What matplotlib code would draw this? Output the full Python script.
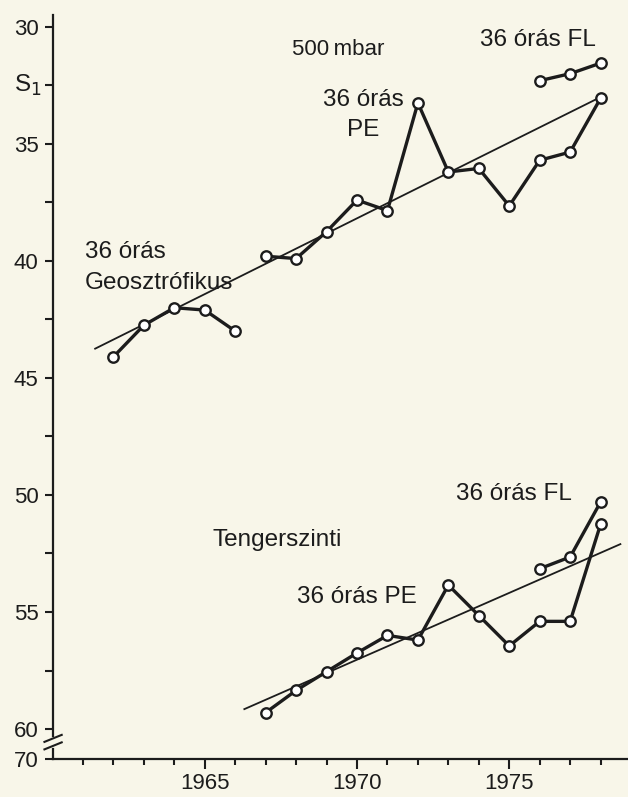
import matplotlib.pyplot as plt
from matplotlib.transforms import blended_transform_factory

# --- data (S1 score, lower is better) ---

# 500 mbar
geo_years = [1962, 1963, 1964, 1965, 1966]
geo_s1 = [44.1, 42.75, 42.0, 42.1, 43.0]

pe500_years = [1967, 1968, 1969, 1970, 1971, 1972, 1973, 1974, 1975, 1976, 1977, 1978]
pe500_s1 = [39.8, 39.9, 38.75, 37.4, 37.85, 33.25, 36.2, 36.05, 37.65, 35.7, 35.35, 33.05]

fl500_years = [1976, 1977, 1978]
fl500_s1 = [32.3, 32.0, 31.55]

trend500_years = [1961.4, 1978.0]
trend500_s1 = [43.75, 33.0]

# tengerszinti (sea level)
pesl_years = [1967, 1968, 1969, 1970, 1971, 1972, 1973, 1974, 1975, 1976, 1977, 1978]
pesl_s1 = [59.3, 58.35, 57.55, 56.75, 56.0, 56.2, 53.85, 55.15, 56.45, 55.4, 55.4, 51.25]

flsl_years = [1976, 1977, 1978]
flsl_s1 = [53.15, 52.65, 50.3]

trendsl_years = [1966.3, 1978.65]
trendsl_s1 = [59.15, 52.1]

ytick_vals = [30, 35, 40, 45, 50, 55, 60]
ytick_labels = ["30", "35", "40", "45", "50", "55", "60"]
xtick_vals = [1965, 1970, 1975]

PAPER = "#f8f6e9"
INK = "#1c1c1c"
FONT = "Liberation Sans"
FS = 17.5      # annotation text
FS_TICK = 16   # tick labels

plt.rcParams["font.family"] = FONT

fig = plt.figure(figsize=(6.28, 7.97), dpi=100, facecolor=PAPER)
ax = fig.add_axes([0.0836, 0.0477, 0.9164, 0.9333], facecolor=PAPER)

# axis bottom sits at the broken "70" mark
y_bottom = 61.28
ax.set_xlim(1960, 1978.9)
ax.set_ylim(y_bottom, 29.5)


def series(years, vals):
    ax.plot(years, vals, color=INK, lw=2.4, marker="o", ms=7.5,
            mfc="white", mec=INK, mew=1.7, zorder=3, clip_on=False)


def trend(years, vals):
    ax.plot(years, vals, color=INK, lw=1.3, zorder=2, clip_on=False)


trend(trend500_years, trend500_s1)
trend(trendsl_years, trendsl_s1)
series(geo_years, geo_s1)
series(pe500_years, pe500_s1)
series(fl500_years, fl500_s1)
series(pesl_years, pesl_s1)
series(flsl_years, flsl_s1)

# spines and ticks
for s in ["top", "right"]:
    ax.spines[s].set_visible(False)
ax.spines["left"].set_bounds(29.5, 60.3)
ax.spines["left"].set_linewidth(1.6)
ax.spines["bottom"].set_linewidth(1.6)
ax.spines["left"].set_color(INK)
ax.spines["bottom"].set_color(INK)

ax.set_yticks(ytick_vals + [y_bottom])
ax.set_yticklabels(ytick_labels + ["70"])
ax.set_yticks([v + 2.5 for v in ytick_vals[:-1]], minor=True)
ax.set_xticks(xtick_vals)
ax.set_xticks(range(1961, 1979), minor=True)

ax.tick_params(axis="y", which="both", direction="out", length=6, width=1.5,
               color=INK, labelsize=FS_TICK, labelcolor=INK, pad=4)
ax.tick_params(axis="x", which="major", direction="out", length=7, width=1.5,
               color=INK, labelsize=FS_TICK, labelcolor=INK, pad=3)
ax.tick_params(axis="x", which="minor", direction="out", length=4, width=1.5,
               color=INK)

# broken y axis between 60 and 70
tr = blended_transform_factory(ax.transAxes, ax.transData)
ax.plot([0, 0], [60.85, y_bottom], color=INK, lw=1.6, transform=tr, clip_on=False)
for yb in [60.4, 60.72]:
    ax.plot([-0.014, 0.016], [yb + 0.15, yb - 0.15], color=INK, lw=1.5,
            transform=tr, clip_on=False)

# labels
txt = dict(fontsize=FS, color=INK, va="center")
ax.text(1959.2, 32.5, "S$_1$", ha="center", clip_on=False, **txt)
ax.text(1967.87, 30.98, "500\u2009mbar", ha="left", fontsize=16,
        color=INK, va="center")
ax.text(1974.05, 30.55, "36 órás FL", ha="left", **txt)
ax.text(1970.2, 33.12, "36 órás", ha="center", **txt)
ax.text(1970.2, 34.4, "PE", ha="center", **txt)
ax.text(1961.07, 39.6, "36 órás", ha="left", **txt)
ax.text(1961.07, 40.93, "Geosztrófikus", ha="left", **txt)
ax.text(1965.24, 51.94, "Tengerszinti", ha="left", **txt)
ax.text(1968.03, 54.37, "36 órás PE", ha="left", **txt)
ax.text(1973.25, 49.97, "36 órás FL", ha="left", **txt)

fig.savefig("out.png", dpi=100, facecolor=PAPER)
